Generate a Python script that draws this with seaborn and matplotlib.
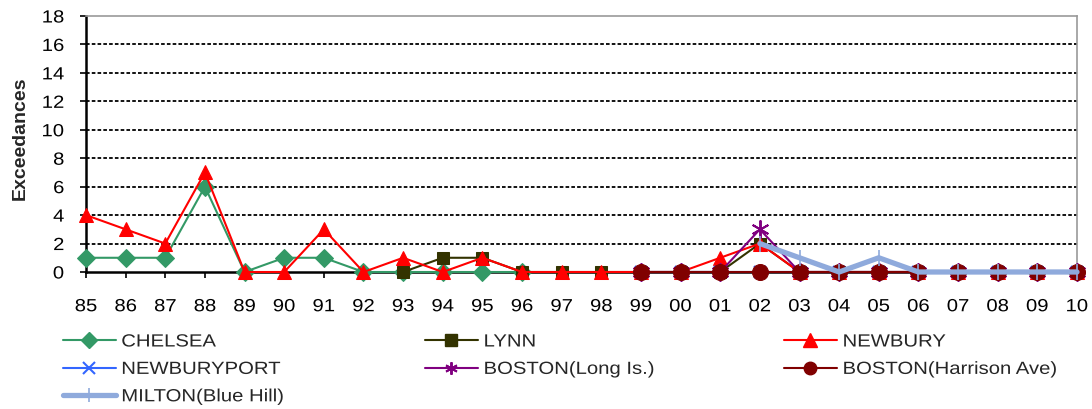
import numpy as np
import pandas as pd
import matplotlib
matplotlib.use("Agg")
import matplotlib.pyplot as plt
from matplotlib.patheffects import AbstractPathEffect
from matplotlib.transforms import Affine2D
from matplotlib.path import Path
from matplotlib.lines import Line2D
import seaborn as sns

sns.set_theme(style="white")
plt.rcParams["font.family"] = ["Liberation Sans", "DejaVu Sans"]

years = ["85", "86", "87", "88", "89", "90", "91", "92", "93", "94", "95", "96", "97",
         "98", "99", "00", "01", "02", "03", "04", "05", "06", "07", "08", "09", "10"]

N = None
chelsea = [1, 1, 1, 6, 0, 1, 1, 0, 0, 0, 0, 0, N, N, N, N, N, N, N, N, N, N, N, N, N, N]
lynn = [N, N, N, N, N, N, N, N, 0, 1, 1, 0, 0, 0, 0, 0, 0, 2, 0, 0, 0, 0, 0, 0, 0, 0]
newbury = [4, 3, 2, 7, 0, 0, 3, 0, 1, 0, 1, 0, 0, 0, 0, 0, 1, 2, 0, 0, 0, 0, 0, 0, 0, 0]
newburyport = [N, N, N, N, N, N, N, N, N, N, N, N, N, N, 0, 0, 0, 0, 0, 0, 0, 0, 0, 0, 0, 0]
boston_long = [N, N, N, N, N, N, N, N, N, N, N, N, N, N, 0, 0, 0, 3, 0, 0, 0, 0, 0, 0, 0, 0]
boston_harrison = [N, N, N, N, N, N, N, N, N, N, N, N, N, N, 0, 0, 0, 0, 0, 0, 0, 0, 0, 0, 0, 0]
milton = [N, N, N, N, N, N, N, N, N, N, N, N, N, N, N, N, N, 2, 1, 0, 1, 0, 0, 0, 0, 0]

# (label, values, line style, legend marker size)
series = [
    ("CHELSEA", chelsea, dict(color="#339966", marker="D", markersize=9, linewidth=1.5), 8.5),
    ("LYNN", lynn, dict(color="#333300", marker="s", markersize=9, linewidth=1.5), 8.5),
    ("NEWBURY", newbury, dict(color="#FF0000", marker="^", markersize=10.5, linewidth=1.5), 10),
    ("NEWBURYPORT", newburyport, dict(color="#3366FF", marker="x", markersize=9,
                                      markeredgewidth=1.5, linewidth=1.5), 8),
    ("BOSTON(Long Is.)", boston_long, dict(color="#800080", marker=(6, 2, 0), markersize=13,
                                           markeredgewidth=1.4, linewidth=1.5), 9),
    ("BOSTON(Harrison Ave)", boston_harrison, dict(color="#800000", marker="o",
                                                   markersize=11.5, linewidth=1.5), 9),
    ("MILTON(Blue Hill)", milton, dict(color="#8FAADC", marker="|", markersize=11,
                                       markeredgewidth=1.2, linewidth=3.8), 10),
]


class WideText(AbstractPathEffect):
    """Draw text glyphs widened horizontally about a chosen anchor."""

    def __init__(self, sx=1.15, anchor="center"):
        super().__init__()
        self.sx = sx
        self.anchor = anchor

    def draw_path(self, renderer, gc, tpath, affine, rgbFace=None):
        v = tpath.vertices
        if tpath.codes is not None:
            v = v[tpath.codes != Path.CLOSEPOLY]
        if len(v):
            x0, x1 = v[:, 0].min(), v[:, 0].max()
        else:
            x0 = x1 = 0.0
        a = {"left": 0.0, "center": (x0 + x1) / 2, "right": x1}[self.anchor]
        t = Affine2D().translate(-a, 0).scale(self.sx, 1).translate(a, 0)
        renderer.draw_path(gc, tpath, t + affine, rgbFace)


FS = 12.7
SX = 1.15

fig = plt.figure(figsize=(10.92, 4.09), dpi=100)
ax = fig.add_axes([86 / 1092, 1 - 272 / 409, (1077 - 86) / 1092, (272 - 16) / 409])

xpos = np.arange(len(years))
handles = {}
for z, (name, vals, style, legend_ms) in enumerate(series):
    df = pd.DataFrame({"x": xpos, "y": pd.array(vals, dtype="Float64")}).dropna()
    df["y"] = df["y"].astype(float)
    sns.lineplot(data=df, x="x", y="y", ax=ax, label=name, zorder=3 + z,
                 markeredgecolor=style["color"], clip_on=False, legend=False, **style)
    key_style = dict(style, markersize=legend_ms)
    handles[name] = Line2D([], [], markeredgecolor=style["color"], **key_style)

ax.set_xlim(0, len(years) - 1)
ax.set_ylim(0, 18)
ax.set_yticks(np.arange(0, 19, 2))
ax.set_xticks(xpos)
ax.set_xticklabels(years)
ax.set_xlabel("")
ax.set_ylabel("Exceedances", fontsize=14, fontweight="bold")
ax.yaxis.set_label_coords((29 - 86) / 991, 1 - (138 - 16) / 256)

for yv in range(2, 18, 2):
    ax.axhline(yv, color="black", linestyle=(0, (2.0, 1.2)), linewidth=1.3, zorder=1)

ax.tick_params(axis="both", labelsize=FS, colors="black", direction="out",
               length=4.2, width=1.2, left=True, bottom=True)
ax.tick_params(axis="x", pad=14.7)
ax.tick_params(axis="y", pad=11.5)

ax.spines["left"].set_color("black")
ax.spines["left"].set_linewidth(1.8)
ax.spines["bottom"].set_color("black")
ax.spines["bottom"].set_linewidth(1.8)
ax.spines["top"].set_color("#999999")
ax.spines["top"].set_linewidth(1.2)
ax.spines["right"].set_color("#999999")
ax.spines["right"].set_linewidth(1.2)

for lbl in ax.get_xticklabels():
    lbl.set_path_effects([WideText(SX, "center")])
for lbl in ax.get_yticklabels():
    lbl.set_path_effects([WideText(SX, "right")])

# three legend columns, laid out row by row
columns = [
    (62.7, ["CHELSEA", "NEWBURYPORT", "MILTON(Blue Hill)"]),
    (425, ["LYNN", "BOSTON(Long Is.)"]),
    (784, ["NEWBURY", "BOSTON(Harrison Ave)"]),
]
for x0, names in columns:
    leg = fig.legend([handles[n] for n in names], names, ncol=1, frameon=False,
                     loc="upper left", bbox_to_anchor=(x0 / 1092, 1 - 333.5 / 409),
                     borderpad=0, borderaxespad=0, fontsize=FS, handlelength=3.0,
                     handletextpad=0.32, labelspacing=0.59)
    for t in leg.get_texts():
        t.set_path_effects([WideText(SX, "left")])

fig.savefig("out.png", dpi=100)
